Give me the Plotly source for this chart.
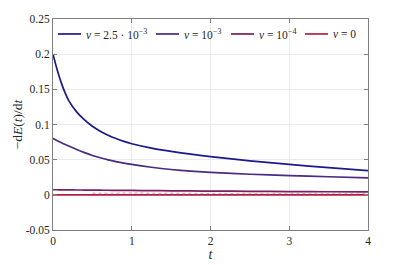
import plotly.graph_objects as go

# time samples
t = [0, 0.05, 0.1, 0.15, 0.2, 0.3, 0.4, 0.5, 0.6, 0.7, 0.8, 0.9, 1.0,
     1.25, 1.5, 1.75, 2.0, 2.5, 3.0, 3.5, 4.0]

# -dE/dt for each viscosity
nu_25e3 = [0.200, 0.179, 0.161, 0.146, 0.134, 0.118, 0.1065, 0.0975, 0.0905, 0.0848, 0.0800,
           0.0760, 0.0727, 0.0665, 0.0618, 0.0578, 0.0543, 0.0484, 0.0432, 0.0386, 0.0345]
nu_1e3 = [0.080, 0.0772, 0.0745, 0.0718, 0.0693, 0.0645, 0.0600, 0.0560, 0.0527, 0.0498, 0.0473,
          0.0451, 0.0432, 0.0392, 0.0360, 0.0336, 0.0318, 0.0293, 0.0274, 0.0257, 0.0241]
nu_1e4 = [0.0072, 0.0072, 0.0071, 0.0071, 0.0070, 0.0069, 0.0068, 0.0067, 0.0066, 0.0065, 0.0064,
          0.0063, 0.0062, 0.0060, 0.0057, 0.0055, 0.0053, 0.0050, 0.0047, 0.0044, 0.0041]
nu_0 = [0.0] * len(t)

# faint numerical noise visible between the two lowest curves
t_noise = [0.5, 1.0, 1.5, 2.0, 2.5, 3.0, 3.5, 4.0]
noise = [0.0022, 0.0025, 0.0022, 0.0020, 0.0019, 0.0018, 0.0018, 0.0018]

names = ["<i>ν</i> = 2.5 · 10<sup>−3</sup>", "<i>ν</i> = 10<sup>−3</sup>", "<i>ν</i> = 10<sup>−4</sup>", "<i>ν</i> = 0"]
colors = ["#1a1a8c", "#4a2a82", "#7a1f5f", "#b3203f"]
series = [nu_25e3, nu_1e3, nu_1e4, nu_0]

x_ticks = [0, 1, 2, 3, 4]
y_ticks = [-0.05, 0, 0.05, 0.1, 0.15, 0.2, 0.25]
y_tick_text = ["-0.05", "0", "0.05", "0.1", "0.15", "0.2", "0.25"]

font_family = "Liberation Serif"

fig = go.Figure()
fig.add_trace(go.Scatter(x=t_noise, y=noise, mode="lines", showlegend=False,
                         line=dict(color="rgba(190,90,130,0.45)", width=1.5, dash="dot", shape="spline")))
for name, col, ys in zip(names, colors, series):
    fig.add_trace(go.Scatter(x=t, y=ys, mode="lines", name=name, showlegend=False,
                             line=dict(color=col, width=1.7, shape="spline", smoothing=0.8)))

# page body has an 8px default margin: compensate so the plot sits where the reference's does
OFF = 8
L, W = 53, 315
sample_starts = [58, 156, 231, 305]
sample_len = 23
leg_y = 0.929
for x0, name, col in zip(sample_starts, names, colors):
    fig.add_shape(type="line", xref="paper", yref="paper",
                  x0=(x0 - L) / W, x1=(x0 + sample_len - L) / W, y0=leg_y, y1=leg_y,
                  line=dict(color=col, width=1.7))
    fig.add_annotation(xref="paper", yref="paper", x=(x0 + sample_len + 3 - L) / W, y=leg_y,
                       xanchor="left", yanchor="middle", showarrow=False, text=name,
                       font=dict(family=font_family, size=11.5, color="#262626"))

axis_common = dict(showline=True, linecolor="#7f7f7f", linewidth=1, mirror="ticks",
                   ticks="inside", ticklen=4, tickcolor="#7f7f7f", automargin=False,
                   showgrid=True, gridcolor="#ebebeb", gridwidth=1, zeroline=False,
                   tickfont=dict(family=font_family, size=11.5, color="#262626"))

fig.update_layout(
    width=407 - OFF, height=265 - OFF,
    margin=dict(l=53 - OFF, r=39, t=19 - OFF, b=35),
    paper_bgcolor="white", plot_bgcolor="white",
    font=dict(family=font_family, color="#262626"),
    xaxis=dict(range=[0, 4], tickvals=x_ticks, ticktext=[str(v) for v in x_ticks],
               title=dict(text="<i>t</i>", font=dict(size=14, family=font_family), standoff=2),
               **axis_common),
    yaxis=dict(range=[-0.05, 0.25], tickvals=y_ticks, ticktext=y_tick_text,
               title=dict(text="−d<i>E</i>(<i>t</i>)/d<i>t</i>", font=dict(size=13.5, family=font_family), standoff=0),
               **axis_common),
    showlegend=False,
)

fig.write_html("out.html")
